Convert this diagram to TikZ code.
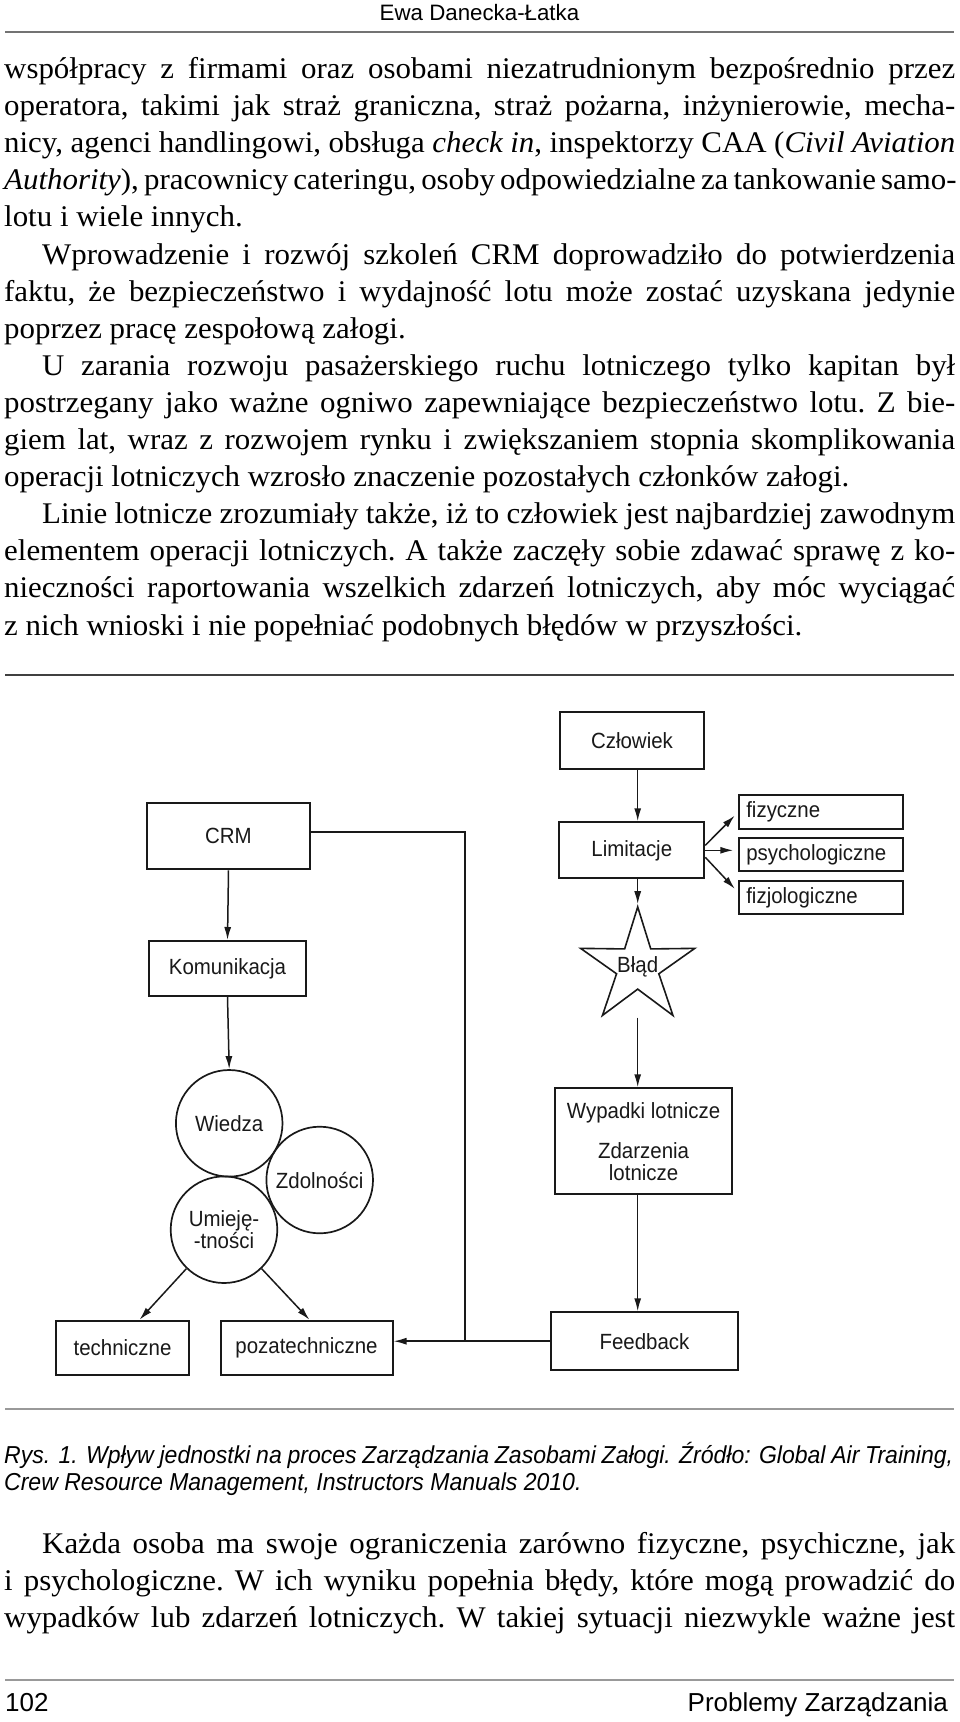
\documentclass[tikz,border=0pt]{standalone}
\usepackage{fontspec}
\setmainfont{Liberation Serif}[FakeStretch=1.03]
\newfontfamily\hv{Liberation Sans}
\newfontfamily\hvn{Liberation Sans}[FakeStretch=0.93]
\newfontfamily\hvc{Liberation Sans}[FakeStretch=0.94]
\usetikzlibrary{shapes.geometric,arrows.meta}
\definecolor{ink}{gray}{0.1}
\definecolor{rulea}{gray}{0.45}
\definecolor{ruleb}{gray}{0.25}
\definecolor{rulec}{gray}{0.6}
\newcommand\bodyfont{\frenchspacing\fontsize{30}{37}\selectfont}
\newcommand\dfont{\hvn\fontsize{22}{22}\selectfont}
\newcommand\txtJ[5]{\node[anchor=base west,inner sep=0pt] (#1) at (#2,#3) {\bodyfont\makebox[#4pt][s]{#5}};}
\newcommand\txtL[4]{\node[anchor=base west,inner sep=0pt] (#1) at (#2,#3) {\bodyfont #4};}
\tikzset{
  box/.style={draw=ink, line width=2pt, inner sep=0pt, font=\dfont, text=ink},
  rbox/.style={box, text width=150pt, align=left, inner xsep=7pt},
  circ/.style={circle, draw=ink, line width=1.7pt, inner sep=0pt, minimum size=106.6pt, font=\dfont, text=ink},
  arr/.style={draw=ink, line width=1.5pt, -{Latex[length=13pt,width=7pt]}},
  conn/.style={draw=ink, line width=1.5pt},
}
\begin{document}
\begin{tikzpicture}[x=1pt,y=-1pt]
\fill[white] (0,0) rectangle (960,1722);
\useasboundingbox (0,0) rectangle (960,1722);

% header
\node[anchor=base, inner sep=0pt, font=\hv\fontsize{22.3}{24}\selectfont] (hdr) at (479.5,20.5) {Ewa Danecka-Łatka};
\draw[rulea, line width=1.8pt] (5,32.3) -- (954,32.3);

% body text
\txtJ{t1}{4}{78.5}{951}{współpracy z firmami oraz osobami niezatrudnionym bezpośrednio przez}
\txtJ{t2}{4}{115.6}{951}{operatora, takimi jak straż graniczna, straż pożarna, inżynierowie, mecha-}
\txtJ{t3}{4}{152.7}{951}{nicy, agenci handlingowi, obsługa \textit{check in}, inspektorzy CAA (\textit{Civil Aviation}}
\txtJ{t4}{4}{189.8}{951}{\textit{Authority}), pracownicy cateringu, osoby odpowiedzialne za tankowanie samo-}
\txtL{t5}{4}{226.9}{lotu i wiele innych.}
\txtJ{t6}{42}{264.0}{913}{Wprowadzenie i rozwój szkoleń CRM doprowadziło do potwierdzenia}
\txtJ{t7}{4}{301.1}{951}{faktu, że bezpieczeństwo i wydajność lotu może zostać uzyskana jedynie}
\txtL{t8}{4}{338.2}{poprzez pracę zespołową załogi.}
\txtJ{t9}{42}{375.3}{913}{U zarania rozwoju pasażerskiego ruchu lotniczego tylko kapitan był}
\txtJ{t10}{4}{412.4}{951}{postrzegany jako ważne ogniwo zapewniające bezpieczeństwo lotu. Z bie-}
\txtJ{t11}{4}{449.5}{951}{giem lat, wraz z rozwojem rynku i zwiększaniem stopnia skomplikowania}
\txtL{t12}{4}{486.6}{operacji lotniczych wzrosło znaczenie pozostałych członków załogi.}
\txtJ{t13}{42}{523.7}{913}{Linie lotnicze zrozumiały także, iż to człowiek jest najbardziej zawodnym}
\txtJ{t14}{4}{560.8}{951}{elementem operacji lotniczych. A także zaczęły sobie zdawać sprawę z ko-}
\txtJ{t15}{4}{597.9}{951}{nieczności raportowania wszelkich zdarzeń lotniczych, aby móc wyciągać}
\txtL{t16}{4}{635.0}{z nich wnioski i nie popełniać podobnych błędów w przyszłości.}

% diagram frame rules
\draw[ruleb, line width=2.2pt] (5,675) -- (954,675);
\draw[rulec, line width=2pt] (5,1409) -- (954,1409);

% diagram nodes
\node[box, minimum width=144pt, minimum height=57.6pt] (czl) at (632,740.5) {Człowiek};
\node[box, minimum width=163pt, minimum height=66.6pt] (crm) at (228.5,836) {CRM};
\node[box, minimum width=145pt, minimum height=56pt] (lim) at (631.8,850.3) {Limitacje};
\node[rbox, minimum height=34pt] (fiz) at (821.3,812) {fizyczne};
\node[rbox, minimum height=33.3pt] (psy) at (821.3,854.3) {psychologiczne};
\node[rbox, minimum height=33.6pt] (fzj) at (821.3,897.5) {fizjologiczne};
\node[box, minimum width=157.4pt, minimum height=55pt] (kom) at (227.5,968.5) {Komunikacja};
\node[star, star points=5, star point ratio=2.7, draw=ink, line width=1.6pt, minimum size=120pt, inner sep=0pt] (blad) at (637.7,966.9) {};
\node[font=\dfont, text=ink, inner sep=0pt] (bladt) at (blad.center) {Błąd};
\node[box, minimum width=176.4pt, minimum height=106pt, align=center] (wyp) at (643.6,1141.3) {Wypadki lotnicze\\[18pt]Zdarzenia\\lotnicze};
\node[box, minimum width=187pt, minimum height=57.7pt] (fb) at (644.5,1341.2) {Feedback};
\node[box, minimum width=132.3pt, minimum height=54.3pt] (tech) at (122.5,1347.9) {techniczne};
\node[box, minimum width=172pt, minimum height=54.3pt] (poza) at (306.5,1347.9) {pozatechniczne};
\node[circ] (wie) at (229.2,1123.3) {Wiedza};
\node[circ] (zdo) at (319.7,1180) {Zdolności};
\node[circ, align=center, font=\hvn\fontsize{22}{20}\selectfont] (umi) at (224,1229.7) {Umieję-\\-tności};
\coordinate (jx) at (465,1341.2);

% connectors
\draw[arr] (czl.south -| blad.center) -- (lim.north -| blad.center);
\draw[arr] (lim.south -| blad.center) -- (blad.north);
\draw[arr] (blad.outer point 3 -| blad.center) -- (wyp.north -| blad.center);
\draw[arr] (wyp.south -| blad.center) -- (fb.north -| blad.center);
\draw[arr, shorten >=5pt] ([yshift=5pt]lim.east) -- (fiz.west);
\draw[arr, shorten >=5pt] (lim.east) -- (lim.east -| psy.west);
\draw[arr, shorten >=5pt] ([yshift=-7pt]lim.east) -- ([yshift=5pt]fzj.west);
\draw[arr] (crm.south) -- (kom.north);
\draw[arr] (kom.south) -- (wie.north);
\draw[arr] (umi.226.7) -- ([xshift=17pt]tech.north);
\draw[arr] (umi.314.3) -- ([xshift=3pt]poza.north);
\draw[arr] (fb.west) -- (fb.west -| poza.east);
\draw[conn] ([yshift=4pt]crm.east) -| (jx);

% caption
\node[anchor=base west, inner sep=0pt, font=\hvc\itshape\fontsize{24.5}{27}\selectfont] (cap1) at (4,1463) {\makebox[949pt][s]{Rys. 1. Wpływ jednostki na proces Zarządzania Zasobami Załogi. Źródło: Global Air Training,}};
\node[anchor=base west, inner sep=0pt, font=\hvc\itshape\fontsize{24.5}{27}\selectfont] (cap2) at (4,1490) {Crew Resource Management, Instructors Manuals 2010.};

% bottom text
\txtJ{b1}{42}{1553}{913}{Każda osoba ma swoje ograniczenia zarówno fizyczne, psychiczne, jak}
\txtJ{b2}{4}{1590}{951}{i psychologiczne. W ich wyniku popełnia błędy, które mogą prowadzić do}
\txtJ{b3}{4}{1627}{951}{wypadków lub zdarzeń lotniczych. W takiej sytuacji niezwykle ważne jest}

% footer
\draw[rulec, line width=1.6pt] (5,1680) -- (954,1680);
\node[anchor=base west, inner sep=0pt, font=\hv\fontsize{26}{28}\selectfont] (pg) at (5,1711) {102};
\node[anchor=base east, inner sep=0pt, font=\hv\fontsize{26}{28}\selectfont] (jrn) at (948,1711) {Problemy Zarządzania};
\end{tikzpicture}
\end{document}
